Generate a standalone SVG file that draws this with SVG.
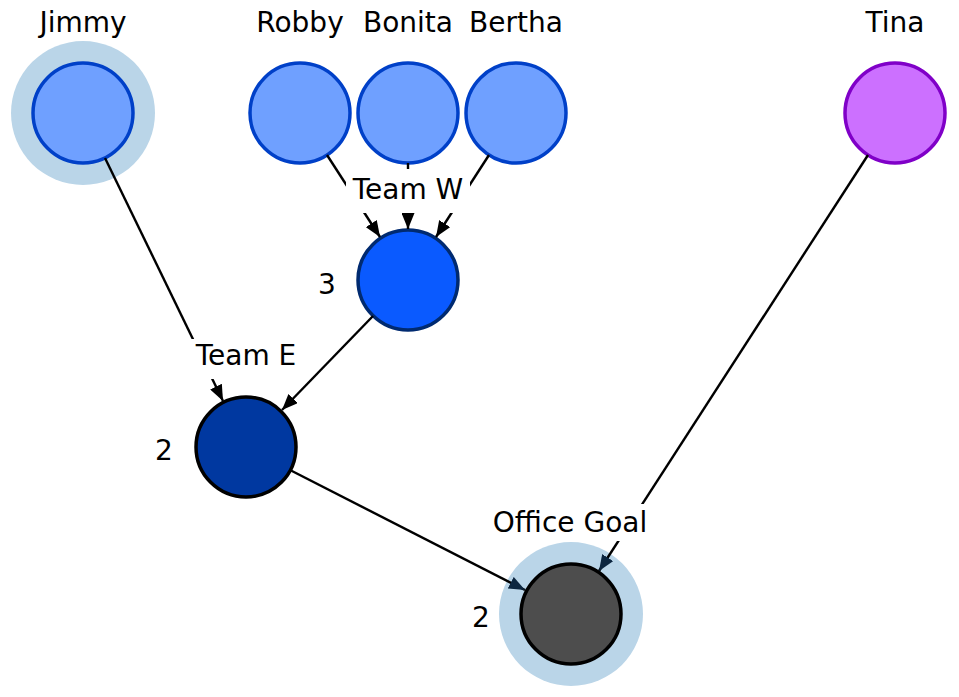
<svg xmlns="http://www.w3.org/2000/svg" width="959" height="697" viewBox="0 0 959 697">
<style>
text{font-family:"DejaVu Sans",sans-serif;font-size:28px;fill:#000;text-anchor:middle}
.halo{fill:#bad5e8}
.person{fill:#6fa0ff;stroke:#0040c8;stroke-width:3.5}
.edge{stroke:#000;stroke-width:2.4;fill:none}
.lbg{fill:#fff}
</style>
<defs>
<marker id="ah" markerUnits="userSpaceOnUse" markerWidth="17" markerHeight="13" refX="16" refY="6.5" orient="auto"><path d="M0,0 L16,6.5 L0,13 z" fill="#000"/></marker>
<marker id="ahg" markerUnits="userSpaceOnUse" markerWidth="17" markerHeight="13" refX="16" refY="6.5" orient="auto"><path d="M0,0 L16,6.5 L0,13 z" fill="#0c2640"/></marker>
</defs>
<rect width="959" height="697" fill="#fff"/>
<g id="jimmy">
<circle class="halo" cx="83" cy="113" r="72"/>
<circle class="person" cx="83" cy="113" r="50"/>
<text x="83" y="32">Jimmy</text>
</g>
<g id="robby">
<circle class="person" cx="300" cy="113" r="50"/>
<text x="300" y="32">Robby</text>
</g>
<g id="bonita">
<circle class="person" cx="408" cy="113" r="50"/>
<text x="408" y="32">Bonita</text>
</g>
<g id="bertha">
<circle class="person" cx="516" cy="113" r="50"/>
<text x="516" y="32">Bertha</text>
</g>
<g id="tina">
<circle cx="895" cy="113" r="50" fill="#cc70ff" stroke="#8000c8" stroke-width="3.5"/>
<text x="895" y="32">Tina</text>
</g>
<g id="team-w">
<circle cx="408" cy="280" r="50" fill="#0a5aff" stroke="#002a70" stroke-width="3.5"/>
<text x="327" y="294">3</text>
</g>
<g id="team-e">
<circle cx="246" cy="447" r="50" fill="#0038a0" stroke="#000" stroke-width="3.5"/>
<text x="164" y="460">2</text>
</g>
<g id="office-goal">
<circle class="halo" cx="571" cy="614" r="72"/>
<circle cx="571" cy="614" r="50" fill="#4d4d4d" stroke="#000" stroke-width="3.5"/>
<text x="481" y="627">2</text>
</g>
<g id="connectors">
<line class="edge" x1="327" y1="155" x2="380" y2="237" marker-end="url(#ah)"/>
<line class="edge" x1="408" y1="163" x2="408" y2="229" marker-end="url(#ah)"/>
<line class="edge" x1="489" y1="155" x2="436" y2="237" marker-end="url(#ah)"/>
<line class="edge" x1="105" y1="158" x2="223" y2="401" marker-end="url(#ah)"/>
<line class="edge" x1="373" y1="316" x2="282" y2="410" marker-end="url(#ah)"/>
<line class="edge" x1="290" y1="470" x2="525" y2="590" marker-end="url(#ahg)"/>
<line class="edge" x1="868" y1="155" x2="599" y2="571" marker-end="url(#ahg)"/>
<rect class="lbg" x="346" y="169" width="124" height="44"/>
<text x="408" y="199">Team W</text>
<rect class="lbg" x="190" y="339" width="112" height="40"/>
<text x="246" y="365">Team E</text>
<rect class="lbg" x="488" y="504" width="166" height="37"/>
<text x="570" y="532">Office Goal</text>
</g>
</svg>
